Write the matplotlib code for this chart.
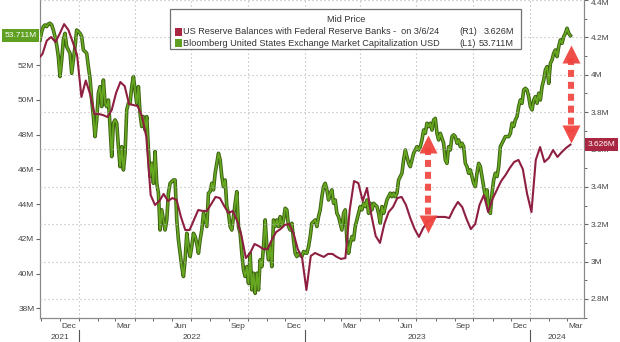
import numpy as np
import pandas as pd
import matplotlib
matplotlib.use("Agg")
import matplotlib.pyplot as plt
import matplotlib.dates as mdates
import matplotlib.transforms as mtransforms
import matplotlib.patheffects as pe
from matplotlib.patches import Rectangle
from matplotlib.ticker import FixedLocator, MultipleLocator

plt.rcParams['font.family'] = ['Liberation Sans', 'DejaVu Sans']

# US reserve balances with Federal Reserve Banks, weekly (Wednesdays), in $M (millions of millions)
reserves_end = "2024-03-06"
reserves = [
    4.084, 4.111, 4.183, 4.202, 4.175, 4.220, 4.271, 4.239, 4.175, 4.105,
    3.881, 3.969, 3.897, 3.790, 3.790, 3.784, 3.774, 3.811, 3.902, 3.961,
    3.939, 3.843, 3.838, 3.832, 3.779, 3.667, 3.356, 3.303, 3.324, 3.362,
    3.324, 3.340, 3.330, 3.239, 3.169, 3.169, 3.223, 3.276, 3.271, 3.271,
    3.308, 3.346, 3.340, 3.297, 3.260, 3.271, 3.217, 3.137, 3.019, 3.046,
    3.094, 3.083, 3.067, 3.067, 3.116, 3.158, 3.174, 3.196, 3.201, 3.153,
    3.067, 3.019, 2.848, 3.030, 3.046, 3.035, 3.025, 3.041, 3.041, 3.025,
    3.014, 3.019, 3.276, 3.431, 3.420, 3.324, 3.394, 3.249, 3.137, 3.100,
    3.201, 3.265, 3.292, 3.340, 3.346, 3.303, 3.233, 3.174, 3.132, 3.180,
    3.212, 3.228, 3.239, 3.239, 3.239, 3.233, 3.281, 3.319, 3.292, 3.228,
    3.174, 3.201, 3.303, 3.356, 3.265, 3.335, 3.383, 3.431, 3.463, 3.501,
    3.533, 3.544, 3.495, 3.362, 3.265, 3.544, 3.613, 3.533, 3.554, 3.597,
    3.560, 3.586, 3.608, 3.626,
]

# Bloomberg United States Exchange Market Capitalization USD, in $M (millions of millions)
market_cap_start = "2021-10-30"
market_cap_end = "2024-03-06"
market_cap = [
    # Nov 2021 - Jun 2022
    53.46, 53.94, 54.23, 54.32, 54.23, 54.38, 54.42, 54.32, 54.03, 53.65,
    53.17, 52.50, 51.35, 52.31, 53.46, 53.84, 53.07, 52.88, 52.69, 51.54,
    52.31, 53.07, 54.03, 53.94, 53.84, 53.65, 52.88, 52.79, 52.69, 51.92,
    51.25, 50.00, 49.04, 47.89, 48.85, 50.39, 50.77, 49.62, 51.15, 49.81,
    49.62, 50.00, 48.47, 46.74, 48.66, 48.85, 48.66, 47.31, 46.16, 47.31,
    45.97, 46.93, 49.43, 49.81, 49.81, 50.77, 51.35, 50.58, 49.81, 50.77,
    49.23, 48.47, 49.04, 48.27, 49.04, 47.12, 45.59, 46.35, 45.20, 47.03,
    45.20, 44.63, 42.51, 43.67, 43.09, 42.51, 43.09, 44.63, 45.20, 45.30,
    45.39,
    # Jun 2022 - Jan 2023
    45.39, 43.09, 41.94, 41.17, 40.40, 39.83, 40.79, 42.32, 41.55, 40.98,
    41.55, 42.32, 42.13, 41.74, 41.17, 41.94, 42.51, 43.47, 43.09, 42.71,
    44.63, 44.72, 45.20, 44.82, 45.78, 46.35, 46.93, 46.55, 45.59, 45.01,
    45.39, 43.86, 43.47, 42.71, 42.51, 43.28, 44.05, 44.72, 42.71, 42.32,
    41.17, 40.21, 39.83, 40.40, 39.44, 41.17, 39.06, 40.02, 38.86, 40.02,
    39.06, 40.79, 40.40, 41.55, 43.09, 41.55, 40.79, 41.55, 40.40, 43.09,
    42.71, 43.09, 42.71, 43.28, 42.71, 43.09, 43.76, 43.67, 42.71, 42.51,
    42.90, 41.94, 41.17, 40.98, 41.17, 41.07, 40.98, 41.27, 41.20, 41.17,
    41.55,
    # Jan 2023 - Aug 2023
    42.13, 42.90, 42.99, 43.09, 42.71, 43.28, 43.67, 44.43, 45.01, 45.20,
    44.82, 44.24, 44.63, 44.82, 44.05, 44.24, 43.47, 43.28, 42.90, 42.51,
    43.47, 43.67, 41.94, 41.17, 41.74, 42.13, 41.94, 42.71, 43.09, 43.47,
    43.86, 43.67, 44.05, 43.86, 44.24, 43.47, 44.05, 43.67, 44.05, 43.95,
    43.86, 43.47, 42.90, 43.86, 43.47, 43.86, 44.24, 44.43, 44.63, 44.43,
    44.63, 44.43, 44.63, 45.39, 45.59, 45.78, 46.55, 47.12, 46.74, 46.35,
    46.16, 46.55, 46.93, 47.12, 47.31, 47.12, 47.31, 47.70, 48.27, 48.08,
    48.66, 48.47, 48.66, 48.27, 48.85, 48.94, 48.08, 47.70,
    # Aug 2023 - Mar 2024
    48.08, 47.79, 47.51, 46.55, 46.35, 47.31, 47.12, 47.89, 47.99, 47.89,
    47.51, 47.70, 47.31, 47.51, 47.31, 46.35, 46.16, 45.78, 45.97, 45.59,
    45.20, 45.01, 45.78, 46.35, 46.16, 45.59, 45.01, 44.43, 44.82, 43.67,
    43.47, 44.63, 45.39, 45.78, 45.59, 46.16, 47.31, 47.51, 47.70, 47.89,
    47.89, 47.89, 48.08, 48.66, 48.47, 48.85, 49.04, 49.62, 50.00, 49.81,
    50.58, 50.67, 50.58, 50.19, 49.62, 49.43, 50.00, 50.19, 49.81, 50.39,
    50.00, 50.77, 51.15, 51.73, 51.92, 50.96, 52.11, 52.31, 52.69, 52.88,
    52.50, 53.07, 53.46, 53.27, 53.65, 53.84, 54.13, 53.84, 53.711,
]

left_ticks = [38, 40, 42, 44, 46, 48, 50, 52]
right_ticks = [2.8, 3.0, 3.2, 3.4, 3.6, 3.8, 4.0, 4.2, 4.4]
month_label_dates = ["2021-12-15", "2022-03-15", "2022-06-15", "2022-09-15", "2022-12-15",
                     "2023-03-15", "2023-06-15", "2023-09-15", "2023-12-15", "2024-03-15"]
month_labels = ["Dec", "Mar", "Jun", "Sep", "Dec", "Mar", "Jun", "Sep", "Dec", "Mar"]
years = [2021, 2022, 2023, 2024]

# gap markers drawn as dashed double arrows (right-axis units)
gap_dates = ["2023-07-19", "2024-03-07"]
gap_low = [3.153, 3.634]
gap_high = [3.677, 4.159]

legend_title = "Mid Price"
reserves_name = "US Reserve Balances with Federal Reserve Banks -  on 3/6/24"
cap_name = "Bloomberg United States Exchange Market Capitalization USD"

GREEN = "#66a820"
GREEN_DARK = "#3d6113"
MAROON = "#8e1f40"
RED_BOX = "#a8263f"
GREEN_BOX = "#5f9f22"
ARROW = "#f0443f"
GRID = "#b4b4b4"
AXIS = "#8a8a8a"
TEXT = "#444444"

reserve_dates = pd.date_range(end=reserves_end, periods=len(reserves), freq="7D")
cap_dates = pd.date_range(market_cap_start, market_cap_end, periods=len(market_cap))

W, H = 620, 342
fig = plt.figure(figsize=(W / 100, H / 100), dpi=100)
fig.patch.set_facecolor("white")
ax = fig.add_axes([40 / W, 1 - 318 / H, 544 / W, 318 / H])
ax2 = ax.twinx()

x_lo, x_hi = pd.Timestamp("2021-10-30"), pd.Timestamp("2024-03-28")
ax.set_xlim(x_lo, x_hi)
ax.set_ylim(37.44, 55.76)
ax2.set_ylim(2.698, 4.40)

# lines
ax.plot(cap_dates, market_cap, color=GREEN, lw=1.25, zorder=3,
        path_effects=[pe.Stroke(linewidth=2.6, foreground=GREEN_DARK), pe.Normal()])
ax2.plot(reserve_dates, reserves, color=MAROON, lw=1.5, zorder=4)

# spines
for a in (ax, ax2):
    a.spines["top"].set_visible(False)
ax.spines["right"].set_visible(False)
ax2.spines["left"].set_visible(False)
ax2.spines["bottom"].set_visible(False)
for s in ("left", "bottom"):
    ax.spines[s].set_color(AXIS)
    ax.spines[s].set_linewidth(0.9)
ax2.spines["right"].set_color(AXIS)
ax2.spines["right"].set_linewidth(0.9)

# y ticks
ax.yaxis.set_major_locator(FixedLocator(left_ticks))
ax.set_yticklabels([f"{v:g}M" for v in left_ticks])
ax.tick_params(axis="y", length=3, width=0.8, color="#666666", labelsize=6,
               labelcolor=TEXT, pad=1)
ax2.yaxis.set_major_locator(FixedLocator(right_ticks))
ax2.set_yticklabels([f"{v:g}M" for v in right_ticks])
ax2.yaxis.set_minor_locator(MultipleLocator(0.1))
ax2.tick_params(axis="y", which="major", length=3, width=0.8, color="#666666",
                labelsize=6, labelcolor=TEXT, pad=2)
ax2.tick_params(axis="y", which="minor", length=1.8, width=0.7, color="#666666")
# the topmost label sits at the upper edge; hang it below its tick
ax2.yaxis.get_major_ticks()[-1].label2.set_verticalalignment("top")

# x ticks: gridlines at quarter starts, small ticks every month
ax.xaxis.set_major_locator(mdates.MonthLocator(bymonth=(1, 4, 7, 10)))
ax.xaxis.set_minor_locator(mdates.MonthLocator())
ax.tick_params(axis="x", which="both", length=2.5, width=0.7, color="#666666",
               labelbottom=False)

dotted = (0, (1, 2.6))
ax.grid(axis="x", which="major", color=GRID, lw=0.8, linestyle=dotted)
ax2.grid(axis="y", which="major", color=GRID, lw=0.8, linestyle=dotted)
ax.set_axisbelow(True)

# month and year labels under the axis
trx = mtransforms.blended_transform_factory(ax.transData, ax.transAxes)
for d, lab in zip(month_label_dates, month_labels):
    ax.text(pd.Timestamp(d), -0.026, lab, transform=trx, ha="center", va="center",
            fontsize=6, color=TEXT, clip_on=False)
for y in years:
    start = max(pd.Timestamp(f"{y}-01-01"), x_lo)
    end = min(pd.Timestamp(f"{y + 1}-01-01"), x_hi)
    mid = start + (end - start) / 2
    ax.text(mid, -0.062, str(y), transform=trx, ha="center", va="center",
            fontsize=6, color=TEXT, clip_on=False)
    if y > years[0]:
        ax.plot([pd.Timestamp(f"{y}-01-01")] * 2, [-0.038, -0.08], transform=trx,
                color="#555555", lw=0.8, clip_on=False)

# last-value boxes on each axis
trl = mtransforms.blended_transform_factory(ax.transAxes, ax.transData)
ax.text(-0.006, market_cap[-1], f"{market_cap[-1]:.3f}M", transform=trl, ha="right",
        va="center", fontsize=6, color="white", clip_on=False, zorder=10,
        bbox=dict(boxstyle="square,pad=0.32", fc=GREEN_BOX, ec="none"))
trr = mtransforms.blended_transform_factory(ax2.transAxes, ax2.transData)
ax2.text(1.006, reserves[-1], f"{reserves[-1]:.3f}M", transform=trr, ha="left",
         va="center", fontsize=6, color="white", clip_on=False, zorder=10,
         bbox=dict(boxstyle="square,pad=0.32", fc=RED_BOX, ec="none"))

# dashed double arrows marking the gap
head = 13.5
up_tr = mtransforms.offset_copy(ax2.transData, fig=fig, y=-head / 2, units="points")
dn_tr = mtransforms.offset_copy(ax2.transData, fig=fig, y=head / 2, units="points")
for d, lo, hi in zip(gap_dates, gap_low, gap_high):
    t = pd.Timestamp(d)
    ax2.plot([t, t], [hi - 0.07, lo + 0.06], color=ARROW, lw=4.4, alpha=0.92,
             dashes=(1.15, 0.8), dash_capstyle="butt", zorder=8)
    ax2.plot([t], [hi], marker="^", ms=head, color=ARROW, mec="none", alpha=0.95,
             transform=up_tr, zorder=9)
    ax2.plot([t], [lo], marker="v", ms=head, color=ARROW, mec="none", alpha=0.95,
             transform=dn_tr, zorder=9)


def fx(px):
    return px / W


def fy(py):
    return 1 - py / H


# legend box
fig.patches.append(Rectangle((fx(170), fy(49)), 351 / W, 40 / H, transform=fig.transFigure,
                             fc="white", ec="#707070", lw=0.9, zorder=20))
fig.text(fx(346), fy(20), legend_title, ha="center", va="center", fontsize=6.6,
         color="#333333", zorder=21)
rows = [
    (32, RED_BOX, reserves_name, "(R1)", f"{reserves[-1]:.3f}M"),
    (43, GREEN_BOX, cap_name, "(L1)", f"{market_cap[-1]:.3f}M"),
]
for py, col, name, tag, val in rows:
    fig.patches.append(Rectangle((fx(175), fy(py + 3.5)), 7 / W, 7 / H,
                                 transform=fig.transFigure, fc=col, ec="none", zorder=21))
    fig.text(fx(183), fy(py), name, ha="left", va="center", fontsize=6.6,
             color="#333333", zorder=21)
    fig.text(fx(459), fy(py), tag, ha="left", va="center", fontsize=6.6,
             color="#333333", zorder=21)
    fig.text(fx(514), fy(py), val, ha="right", va="center", fontsize=6.6,
             color="#333333", zorder=21)

fig.savefig("out.png", dpi=100, facecolor="white")
